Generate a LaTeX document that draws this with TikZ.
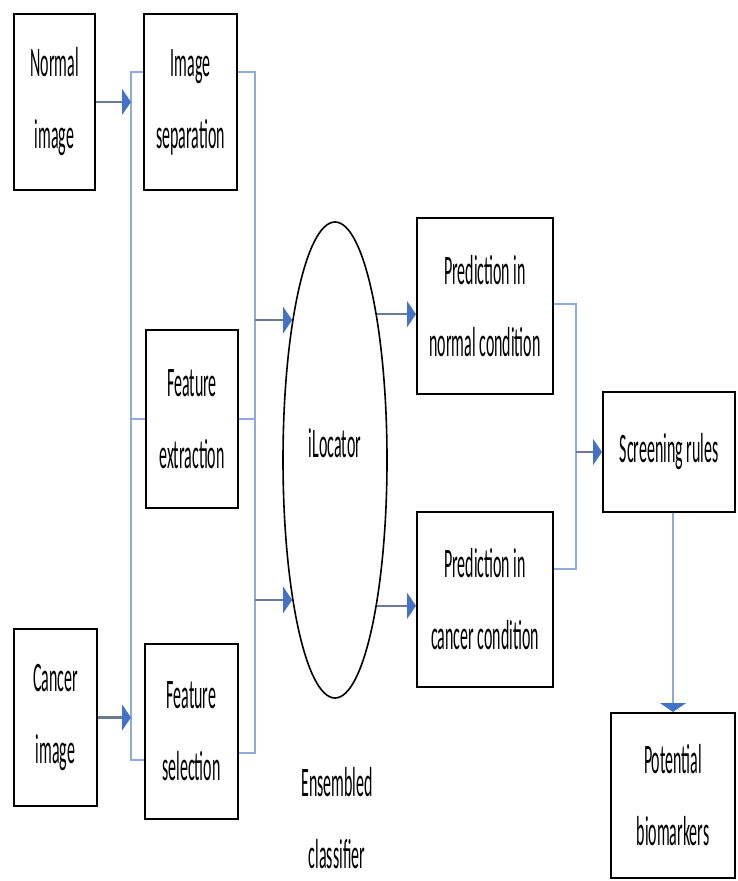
\documentclass[tikz,border=0pt]{standalone}
\usepackage{fontspec}
\setmainfont{Carlito}[FakeStretch=0.38]
\usepackage{xcolor}
\usetikzlibrary{shapes.geometric,arrows.meta}
\definecolor{busblue}{HTML}{8FAADC}
\definecolor{headblue}{HTML}{4472C4}
\definecolor{shaftgray}{HTML}{6A7A96}

\begin{document}
\begin{tikzpicture}[x=0.5pt,y=-0.5pt,font=\fontsize{21}{36}\selectfont,
  box/.style={draw=black,line width=1pt,inner sep=0pt,align=center,text=black},
  bus/.style={draw=busblue,line width=0.6pt},
  arr/.style={draw=shaftgray,line width=1.2pt,-{Triangle[length=4.5pt,width=13pt,color=headblue]}},
  arrthin/.style={bus,-{Triangle[length=4.5pt,width=13pt,color=headblue]}}]
\useasboundingbox (0,0) rectangle (737,881);
\node[box,minimum width=40.5pt,minimum height=88pt] (normal) at (54.5,102) {Normal\\image};
\node[box,minimum width=46.5pt,minimum height=88pt] (sep) at (190.5,102) {Image\\separation};
\node[box,minimum width=46pt,minimum height=89pt] (extr) at (192,419) {Feature\\extraction};
\node[box,minimum width=46.5pt,minimum height=87.5pt] (sel) at (191.5,731.5) {Feature\\selection};
\node[box,minimum width=41.5pt,minimum height=88.5pt] (cancer) at (55.5,717.5) {Cancer\\image};
\node[draw,ellipse,line width=0.8pt,minimum width=52pt,minimum height=238pt,inner sep=0pt] (ilocator) at (335,460) {};
\node[text=black] (iltext) at (335,443) {iLocator};
\node[box,minimum width=68pt,minimum height=88pt] (prednorm) at (485,306) {Prediction in\\normal condition};
\node[box,minimum width=68pt,minimum height=87.5pt] (predcanc) at (485,599.5) {Prediction in\\cancer condition};
\node[box,minimum width=66pt,minimum height=60pt] (screen) at (669,452) {Screening rules};
\node[box,minimum width=62pt,minimum height=82.5pt] (bio) at (673,795.5) {Potential\\biomarkers};
\node[align=center,text=black] (ens) at (337,818) {Ensembled\\classifier};

\coordinate (l1) at (131,72); \coordinate (l4) at (131,760);
\coordinate (r1) at (255,72); \coordinate (r3) at (255,753);
\coordinate (p1) at (576,304); \coordinate (p2) at (576,569);

\draw[bus] (sep.west |- l1) -- (l1) -- (l4) -- (sel.west |- l4);
\draw[bus] (l1 |- extr.west) -- (extr.west);
\draw[bus] (sep.east |- r1) -- (r1) -- (r3) -- (sel.east |- r3);
\draw[bus] (extr.east) -- (extr.east -| r1);
\draw[bus] (prednorm.east |- p1) -- (p1) -- (p2) -- (predcanc.east |- p2);

\draw[arr] (normal.east) -- (normal.east -| l1);
\draw[arr] (cancer.east) -- (cancer.east -| l1);
\draw[arr] (ilocator.107 -| r1) -- (ilocator.107);
\draw[arr] (ilocator.253 -| r1) -- (ilocator.253);
\draw[arr] (ilocator.74) -- (ilocator.74 -| prednorm.west);
\draw[arr] (ilocator.286) -- (ilocator.286 -| predcanc.west);
\draw[arr] (screen.west -| p1) -- (screen.west);
\draw[arrthin] (bio.north |- screen.south) -- (bio.north);
\end{tikzpicture}
\end{document}
